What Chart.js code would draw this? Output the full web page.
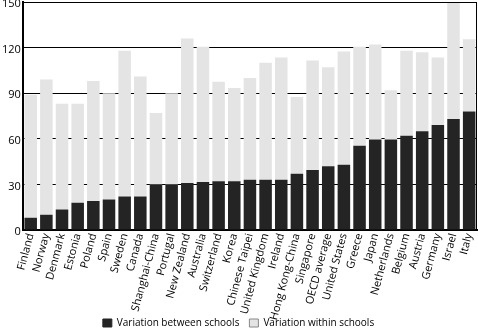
<!DOCTYPE html>
<html lang="en">
<head>
  <meta charset="UTF-8">
  <title>Variation in performance</title>
  <script src="https://cdn.jsdelivr.net/npm/chart.js"></script>
  <style>
    html, body { margin: 0; padding: 0; background: #fff; }
    #wrap { width: 478px; height: 330px; }
  </style>
</head>
<body>
  <div id="wrap"><canvas id="varChart" width="478" height="330"></canvas></div>

  <script>
    // countries, sorted by between-school variation
    const countries = ['Finland', 'Norway', 'Denmark', 'Estonia', 'Poland', 'Spain', 'Sweden', 'Canada',
      'Shanghai-China', 'Portugal', 'New Zealand', 'Australia', 'Switzerland', 'Korea', 'Chinese Taipei',
      'United Kingdom', 'Ireland', 'Hong Kong-China', 'Singapore', 'OECD average', 'United States',
      'Greece', 'Japan', 'Netherlands', 'Belgium', 'Austria', 'Germany', 'Israel', 'Italy'];

    // between-school part of the variation
    const betweenSchools = [8, 10, 13.5, 18, 19, 20, 22, 22, 30, 30, 31, 31.5, 32, 32, 33,
      33, 33, 37, 39.5, 42, 43, 55.5, 59.5, 59.5, 62, 65, 69, 73, 78];

    // total variation (top of each bar)
    const totalVariation = [89, 99, 83, 83, 98, 90, 118, 101, 77, 90, 126, 120.5, 97.5, 93.5, 100,
      110, 113.5, 87.5, 111.5, 107, 117.5, 120.5, 122, 92, 118, 117, 113.5, 149.5, 125.5];

    const withinSchools = totalVariation.map((t, i) => t - betweenSchools[i]);

    const yTicks = [0, 30, 60, 90, 120, 150];

    const FONT = '"Open Sans", "DejaVu Sans", sans-serif';

    const ctx = document.getElementById('varChart').getContext('2d');
    new Chart(ctx, {
      type: 'bar',
      data: {
        labels: countries,
        datasets: [
          {
            label: 'Variation between schools',
            data: betweenSchools,
            backgroundColor: '#242424',
            borderWidth: 0,
            barPercentage: 0.8,
            categoryPercentage: 1
          },
          {
            label: 'Variation within schools',
            data: withinSchools,
            backgroundColor: '#e4e4e4',
            borderWidth: 0,
            barPercentage: 0.8,
            categoryPercentage: 1
          }
        ]
      },
      options: {
        responsive: false,
        animation: false,
        // legend hangs a bit lower than the default box allows
        layout: { padding: { top: 2, right: 1, left: 0, bottom: -8 } },
        plugins: {
          legend: {
            position: 'bottom',
            labels: {
              color: '#000',
              font: { family: FONT, style: 'condensed', size: 10 },
              boxWidth: 9,
              boxHeight: 8,
              padding: 10,
              generateLabels: (chart) => chart.data.datasets.map((ds, i) => ({
                text: ds.label,
                fillStyle: ds.backgroundColor,
                strokeStyle: i === 0 ? ds.backgroundColor : '#888',
                lineWidth: 1,
                datasetIndex: i
              }))
            }
          },
          tooltip: { enabled: false }
        },
        scales: {
          x: {
            stacked: true,
            grid: { display: false, drawTicks: false },
            border: { color: '#000', width: 2 },
            afterFit: (axis) => { axis.paddingRight = 0; axis.height = 78; },
            ticks: {
              color: '#000',
              font: { family: FONT, style: 'condensed', size: 11 },
              minRotation: 75,
              maxRotation: 75,
              autoSkip: false,
              padding: 2
            }
          },
          y: {
            stacked: true,
            min: 0,
            max: 150,
            afterBuildTicks: (axis) => { axis.ticks = yTicks.map(v => ({ value: v })); },
            afterFit: (axis) => { axis.paddingTop = 0; },
            grid: { color: '#000', lineWidth: 1, drawTicks: false },
            border: { color: '#000', width: 2 },
            ticks: {
              color: '#000',
              font: { family: FONT, style: 'condensed', size: 11 },
              labelOffset: 2,
              padding: 2
            }
          }
        }
      },
      plugins: [{
        // let the long country names run past the x axis box instead of being clipped
        id: 'unclipLabels',
        afterLayout(chart) {
          chart.scales.x.bottom = chart.height;
        }
      }, {
        // thin frame on the top and right of the plot area
        id: 'frame',
        afterDraw(chart) {
          const a = chart.chartArea;
          const c = chart.ctx;
          c.save();
          c.strokeStyle = '#000';
          c.lineWidth = 1;
          c.beginPath();
          c.moveTo(a.left, a.top + 0.5);
          c.lineTo(a.right - 0.5, a.top + 0.5);
          c.lineTo(a.right - 0.5, a.bottom);
          c.stroke();
          c.restore();
        }
      }]
    });
  </script>
</body>
</html>
